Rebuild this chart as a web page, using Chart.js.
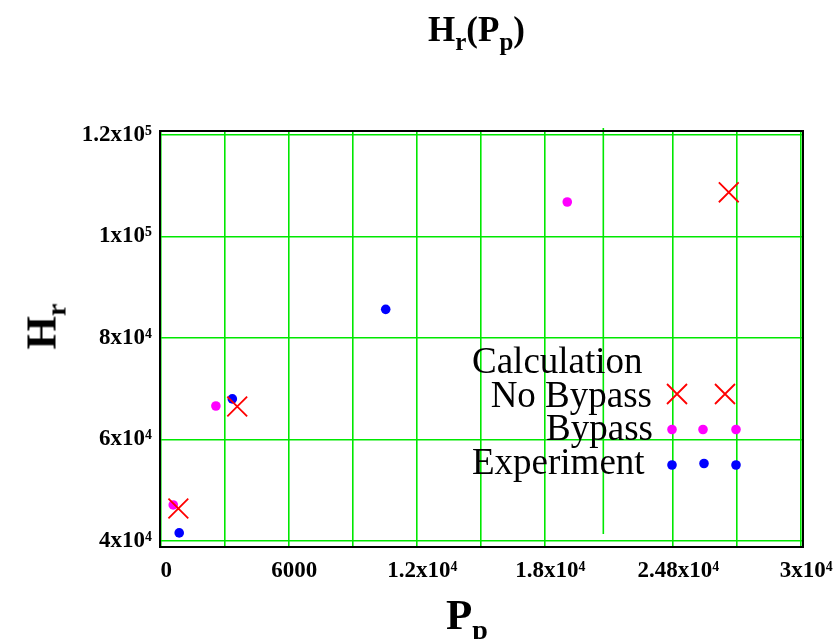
<!DOCTYPE html>
<html>
<head>
<meta charset="utf-8">
<script src="https://cdn.jsdelivr.net/npm/chart.js@4"></script>
<style>
  html, body { margin: 0; padding: 0; background: #fff; }
  #wrap { position: relative; width: 840px; height: 639px; overflow: hidden; }
  #c { position: absolute; left: 0; top: 0; }
  .ttl { position: absolute; font-family: "Liberation Serif", "Times New Roman", serif; font-weight: bold; color: #000; white-space: nowrap; }
  .sub { position: relative; }
</style>
</head>
<body>
<div id="wrap">
  <canvas id="c" width="840" height="639"></canvas>
  <div class="ttl" id="title" style="left:428px; top:12px; font-size:35px; line-height:35px;">H<span class="sub" style="font-size:25px; top:9px;">r</span>(P<span class="sub" style="font-size:25px; top:9px;">p</span>)</div>
  <div class="ttl" id="xtitle" style="left:446px; top:593px; font-size:43px; line-height:43px;">P<span class="sub" style="font-size:28px; top:10px;">p</span></div>
  <div class="ttl" id="ytitle" style="left:9px; top:305px; width:64px; height:43px; text-align:center; font-size:43px; line-height:43px; transform:rotate(-90deg); transform-origin:50% 50%;">H<span class="sub" style="font-size:28px; top:10px;">r</span></div>
</div>
<script>
// ---- data ----
const noBypassX = [800, 3560, 26600];
const noBypassY = [46400, 66500, 108700];
const bypassX = [560, 2560, 19030];
const bypassY = [47100, 66600, 106800];
const expX = [840, 3330, 10520];
const expY = [41600, 68000, 85650];

// ---- ticks ----
const xGridValues = [0, 3000, 6000, 9000, 12000, 15000, 18000, 24000, 27000, 30000];
const xLabelValues = [0, 6000, 12000, 18000, 24000, 30000];
const xLabelTexts = ['0', '6000', '1.2x10\u2074', '1.8x10\u2074', '2.48x10\u2074', '3x10\u2074'];
const yGridValues = [40000, 60000, 80000, 100000, 120000];
const yLabelTexts = ['4x10\u2074', '6x10\u2074', '8x10\u2074', '1x10\u2075', '1.2x10\u2075'];
const markerX = 20720;

const legendTitle = 'Calculation';
const legendLabels = ['No Bypass', 'Bypass', 'Experiment'];

const toPts = (xs, ys) => xs.map((x, i) => ({ x: x, y: ys[i] }));

const GREEN = '#00e800';
const GRID_W = 1.6;
const tickFont = { family: '"Liberation Serif", "Times New Roman", serif', size: 23, weight: 'bold' };

const framePlugin = {
  id: 'frame',
  beforeDatasetsDraw(chart) {
    const { ctx, chartArea: a, scales } = chart;
    ctx.save();
    // extra vertical marker line
    const mx = scales.x.getPixelForValue(markerX);
    ctx.strokeStyle = GREEN;
    ctx.lineWidth = GRID_W;
    ctx.beginPath();
    ctx.moveTo(mx, a.top - 3);
    ctx.lineTo(mx, a.bottom - 13);
    ctx.stroke();
    // box
    ctx.strokeStyle = '#000';
    ctx.lineWidth = 2;
    ctx.strokeRect(a.left, a.top, a.right - a.left, a.bottom - a.top);
    ctx.restore();
  },
  afterDraw(chart) {
    const ctx = chart.ctx;
    ctx.save();
    ctx.fillStyle = '#000';
    ctx.font = '37px "Liberation Serif", "Times New Roman", serif';
    ctx.textBaseline = 'alphabetic';
    ctx.textAlign = 'left';
    ctx.fillText(legendTitle, 472, 373);
    ctx.textAlign = 'right';
    ctx.fillText(legendLabels[0], 652, 407);
    ctx.fillText(legendLabels[1], 653, 440);
    ctx.textAlign = 'left';
    ctx.fillText(legendLabels[2], 472, 474);
    // markers
    const drawX = (x, y) => {
      ctx.strokeStyle = '#ff0000';
      ctx.lineWidth = 1.8;
      ctx.beginPath();
      ctx.moveTo(x - 10, y - 10); ctx.lineTo(x + 10, y + 10);
      ctx.moveTo(x + 10, y - 10); ctx.lineTo(x - 10, y + 10);
      ctx.stroke();
    };
    const drawDot = (x, y, col) => {
      ctx.fillStyle = col;
      ctx.beginPath();
      ctx.arc(x, y, 4.8, 0, Math.PI * 2);
      ctx.fill();
    };
    drawX(677, 394); drawX(725, 394);
    [672, 703, 736].forEach(x => drawDot(x, 429.5, '#ff00ff'));
    drawDot(672, 465, '#0000ff'); drawDot(704, 463.5, '#0000ff'); drawDot(736, 465, '#0000ff');
    ctx.restore();
  }
};

new Chart(document.getElementById('c'), {
  type: 'scatter',
  data: {
    datasets: [
      { label: 'No Bypass', data: toPts(noBypassX, noBypassY), pointStyle: 'crossRot', radius: 14, borderColor: '#ff0000', borderWidth: 1.8, backgroundColor: '#ff0000' },
      { label: 'Bypass', data: toPts(bypassX, bypassY), pointStyle: 'circle', radius: 4.8, borderWidth: 0, backgroundColor: '#ff00ff', borderColor: '#ff00ff' },
      { label: 'Experiment', data: toPts(expX, expY), pointStyle: 'circle', radius: 4.8, borderWidth: 0, backgroundColor: '#0000ff', borderColor: '#0000ff' }
    ]
  },
  options: {
    responsive: false,
    animation: false,
    layout: { padding: { top: 131, right: 37, left: 0, bottom: 0 } },
    plugins: { legend: { display: false }, title: { display: false }, tooltip: { enabled: false } },
    scales: {
      x: {
        type: 'linear', min: -60, max: 30080,
        afterBuildTicks: (s) => { s.ticks = xGridValues.map(v => ({ value: v })); },
        afterFit: (s) => { s.height = 92; },
        grid: { color: GREEN, lineWidth: GRID_W, drawTicks: false },
        border: { display: false },
        ticks: {
          autoSkip: false, maxRotation: 0, padding: 10, labelOffset: 5, color: '#000', font: tickFont,
          callback: (v) => { const i = xLabelValues.indexOf(v); return i >= 0 ? xLabelTexts[i] : ''; }
        }
      },
      y: {
        type: 'linear', min: 38818, max: 120788,
        afterBuildTicks: (s) => { s.ticks = yGridValues.map(v => ({ value: v })); },
        afterFit: (s) => { s.width = 160; },
        grid: { color: GREEN, lineWidth: GRID_W, drawTicks: false },
        border: { display: false },
        ticks: {
          autoSkip: false, padding: 8, color: '#000', font: tickFont,
          callback: (v) => { const i = yGridValues.indexOf(v); return i >= 0 ? yLabelTexts[i] : ''; }
        }
      }
    }
  },
  plugins: [framePlugin]
});
</script>
</body>
</html>
